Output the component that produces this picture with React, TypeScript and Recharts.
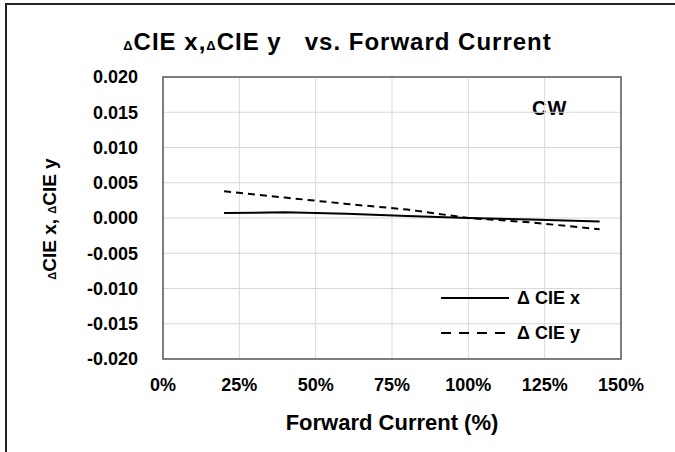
import { LineChart, Line, XAxis, YAxis, CartesianGrid, ReferenceArea } from 'recharts';

const currentPct = [20, 40, 60, 80, 100, 120, 143];
const deltaCieX = [0.0007, 0.0008, 0.0006, 0.0003, 0.0, -0.0002, -0.0005];
const deltaCieY = [0.0038, 0.0029, 0.002, 0.0012, 0.0, -0.0006, -0.0016];
const xTicks = [0, 25, 50, 75, 100, 125, 150];
const yTicks = [-0.02, -0.015, -0.01, -0.005, 0, 0.005, 0.01, 0.015, 0.02];
const seriesNames = ['Δ CIE x', 'Δ CIE y'];

const data = currentPct.map((c, i) => ({ current: c, cieX: deltaCieX[i], cieY: deltaCieY[i] }));

const FONT = '"Liberation Sans", Arial, sans-serif';

// legend drawn as an overlay so it doesn't eat into the plot height
function LegendBox() {
  const dashes = [undefined, '10 8'];
  return (
    <svg width={170} height={60} style={{ position: 'absolute', left: 441, top: 286 }}>
      {seriesNames.map((name, i) => (
        <g key={name}>
          <line x1={0} x2={68} y1={12 + i * 35} y2={12 + i * 35} stroke="#000" strokeWidth={2} strokeDasharray={dashes[i]} />
          <text x={76} y={12 + i * 35} dy="0.35em" fontFamily={FONT} fontWeight="bold" fontSize={18} fill="#000">
            {name}
          </text>
        </g>
      ))}
    </svg>
  );
}

function YTitle() {
  return (
    <text transform="translate(56,219) rotate(-90)" textAnchor="middle" fontFamily={FONT} fontSize={19} fontWeight="bold" fill="#000">
      <tspan fontSize={11}>Δ</tspan>CIE x, <tspan fontSize={11}>Δ</tspan>CIE y
    </text>
  );
}

export default function App() {
  return (
    <div style={{ position: 'absolute', left: 0, top: 0, width: 675, height: 452, background: '#fff', overflow: 'hidden' }}>
      <div style={{ position: 'absolute', left: 5, top: 3, width: 670, height: 449, borderLeft: '2px solid #222', borderTop: '2px solid #222' }} />
      <div
        style={{
          position: 'absolute', left: 0, top: 28, width: 675, textAlign: 'center', lineHeight: '28px',
          fontFamily: FONT, fontSize: 24, fontWeight: 'bold', color: '#000', letterSpacing: 1,
        }}
      >
        <span style={{ fontSize: 13 }}>Δ</span>CIE x,<span style={{ fontSize: 13 }}>Δ</span>CIE y&nbsp;&nbsp; vs. Forward Current
      </div>
      <div style={{ position: 'absolute', left: 532, top: 97, fontFamily: FONT, fontWeight: 'bold', fontSize: 20, letterSpacing: 1 }}>CW</div>
      <div style={{ position: 'absolute', left: 0, top: 0 }}>
        <LineChart width={675} height={452} data={data} margin={{ top: 77, right: 54, bottom: 63, left: 0 }}>
          <CartesianGrid stroke="#d9d9d9" strokeWidth={1} />
          <XAxis
            dataKey="current"
            type="number"
            domain={[0, 150]}
            ticks={xTicks}
            tickFormatter={(v) => `${v}%`}
            axisLine={false}
            tickLine={false}
            tickMargin={13}
            tick={{ fontFamily: FONT, fontWeight: 'bold', fontSize: 18, fill: '#000' }}
            label={{ value: 'Forward Current (%)', position: 'bottom', offset: 25, style: { fontFamily: FONT, fontSize: 22, fontWeight: 'bold', fill: '#000' } }}
          />
          <YAxis
            type="number"
            domain={[-0.02, 0.02]}
            ticks={yTicks}
            width={163}
            tickFormatter={(v) => v.toFixed(3)}
            axisLine={false}
            tickLine={false}
            tickMargin={19}
            tick={{ fontFamily: FONT, fontWeight: 'bold', fontSize: 18, fill: '#000' }}
            label={{ content: () => <YTitle /> }}
          />
          <ReferenceArea x1={0} x2={150} y1={-0.02} y2={0.02} fill="none" stroke="#595959" strokeWidth={1.5} />
          <Line type="linear" dataKey="cieX" name={seriesNames[0]} stroke="#000" strokeWidth={2} dot={false} isAnimationActive={false} />
          <Line type="linear" dataKey="cieY" name={seriesNames[1]} stroke="#000" strokeWidth={2} strokeDasharray="7 5" dot={false} isAnimationActive={false} />
        </LineChart>
      </div>
      <LegendBox />
    </div>
  );
}
